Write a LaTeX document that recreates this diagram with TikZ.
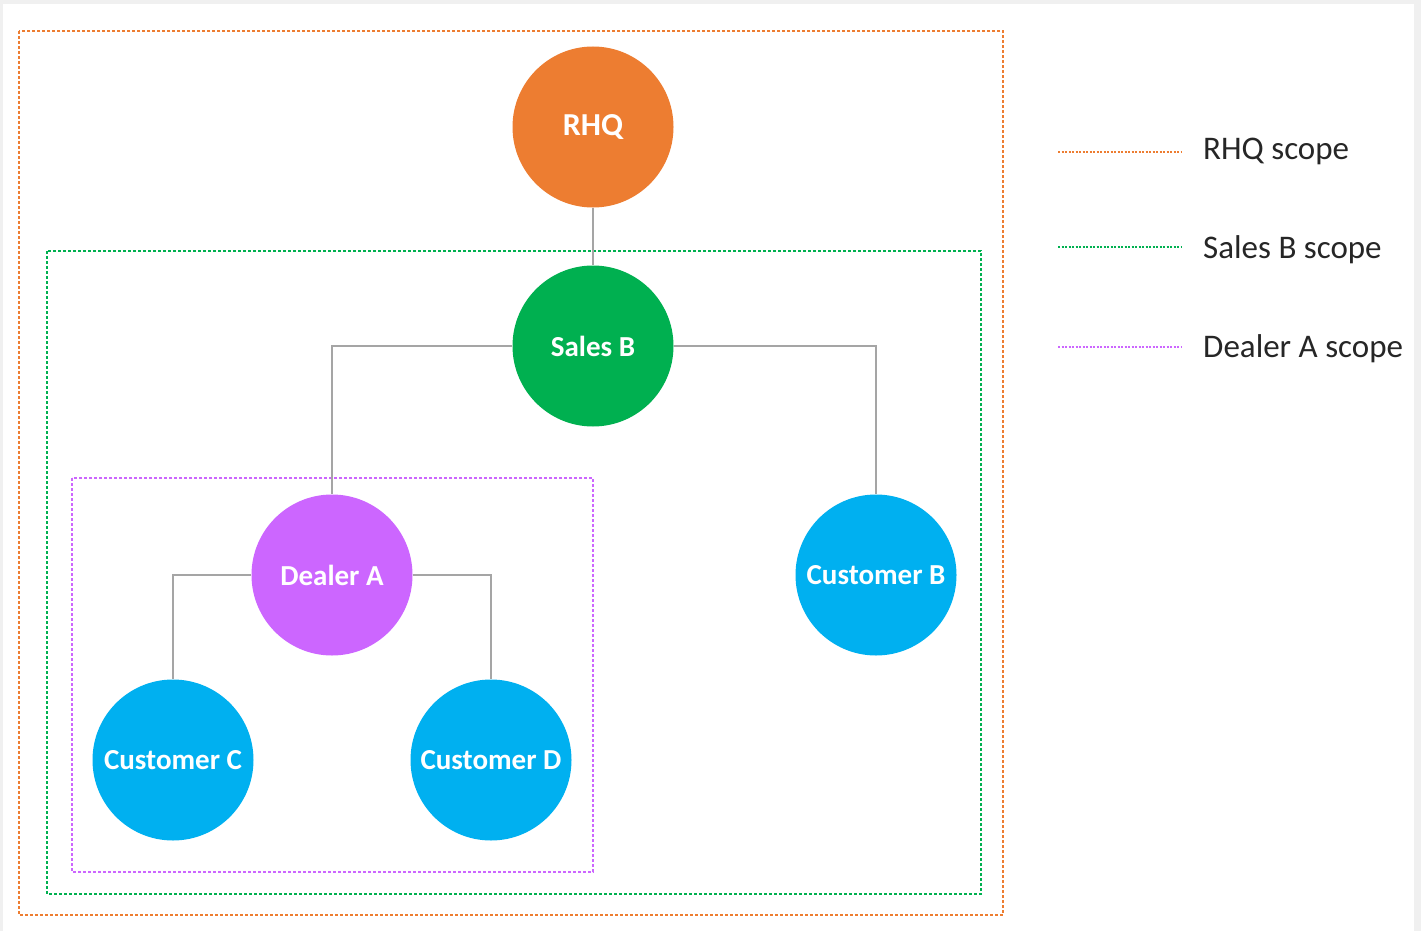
\documentclass[tikz,border=0pt]{standalone}
\usepackage{fontspec}
\setmainfont{Carlito}
\definecolor{rhqc}{HTML}{ED7D31}
\definecolor{salesc}{HTML}{00B050}
\definecolor{dealerc}{HTML}{CC66FF}
\definecolor{custc}{HTML}{00B0F0}
\definecolor{linkc}{HTML}{A5A5A5}
\definecolor{framec}{HTML}{F0F0F0}
\begin{document}
\begin{tikzpicture}[x=1pt,y=-1pt,
  orgnode/.style={circle,minimum size=161pt,inner sep=0pt,text=white,font=\fontsize{29}{34}\selectfont\bfseries},
  scopebox/.style={line width=1.3pt,dash pattern=on 3pt off 2pt},
  link/.style={draw=linkc,line width=1.8pt},
  legendtext/.style={anchor=west,font=\fontsize{33}{38}\selectfont,text=black!85,inner sep=0pt}]
\useasboundingbox (0,0) rectangle (1421,931);
\fill[framec] (0,0) rectangle (1421,931);
\fill[white] (3,4) rectangle (1414,931);
% scope boxes
\draw[scopebox,rhqc] (19,31) rectangle (1003,915);
\draw[scopebox,salesc] (47,251) rectangle (981,894);
\draw[scopebox,dealerc] (72,478) rectangle (593,872);
% nodes
\node[orgnode,fill=rhqc,font=\fontsize{32}{38}\selectfont\bfseries] (rhq) at (593,127) {RHQ};
\node[orgnode,fill=salesc] (salesb) at (593,346) {Sales B};
\node[orgnode,fill=dealerc] (dealera) at (332,575) {Dealer A};
\node[orgnode,fill=custc] (custb) at (876,575) {Customer B};
\node[orgnode,fill=custc] (custc) at (173,760) {Customer C};
\node[orgnode,fill=custc] (custd) at (491,760) {Customer D};
% connectors
\draw[link] (rhq.south) -- (salesb.north);
\draw[link] (salesb.west) -| (dealera.north);
\draw[link] (salesb.east) -| (custb.north);
\draw[link] (dealera.west) -| (custc.north);
\draw[link] (dealera.east) -| (custd.north);
% legend
\coordinate (l1a) at (1058,152); \coordinate (l1b) at (1181,152);
\coordinate (l2a) at (1058,247); \coordinate (l2b) at (1181,247);
\coordinate (l3a) at (1058,347); \coordinate (l3b) at (1181,347);
\draw[rhqc,line width=1.3pt,dash pattern=on 2pt off 1.5pt] (l1a) -- (l1b);
\draw[salesc,line width=1.3pt,dash pattern=on 2pt off 1.5pt] (l2a) -- (l2b);
\draw[dealerc,line width=1.3pt,dash pattern=on 2pt off 1.5pt] (l3a) -- (l3b);
\node[legendtext] (t1) at (1203,151) {RHQ scope};
\node[legendtext] (t2) at (1203,250) {Sales B scope};
\node[legendtext] (t3) at (1203,349) {Dealer A scope};
\end{tikzpicture}
\end{document}
